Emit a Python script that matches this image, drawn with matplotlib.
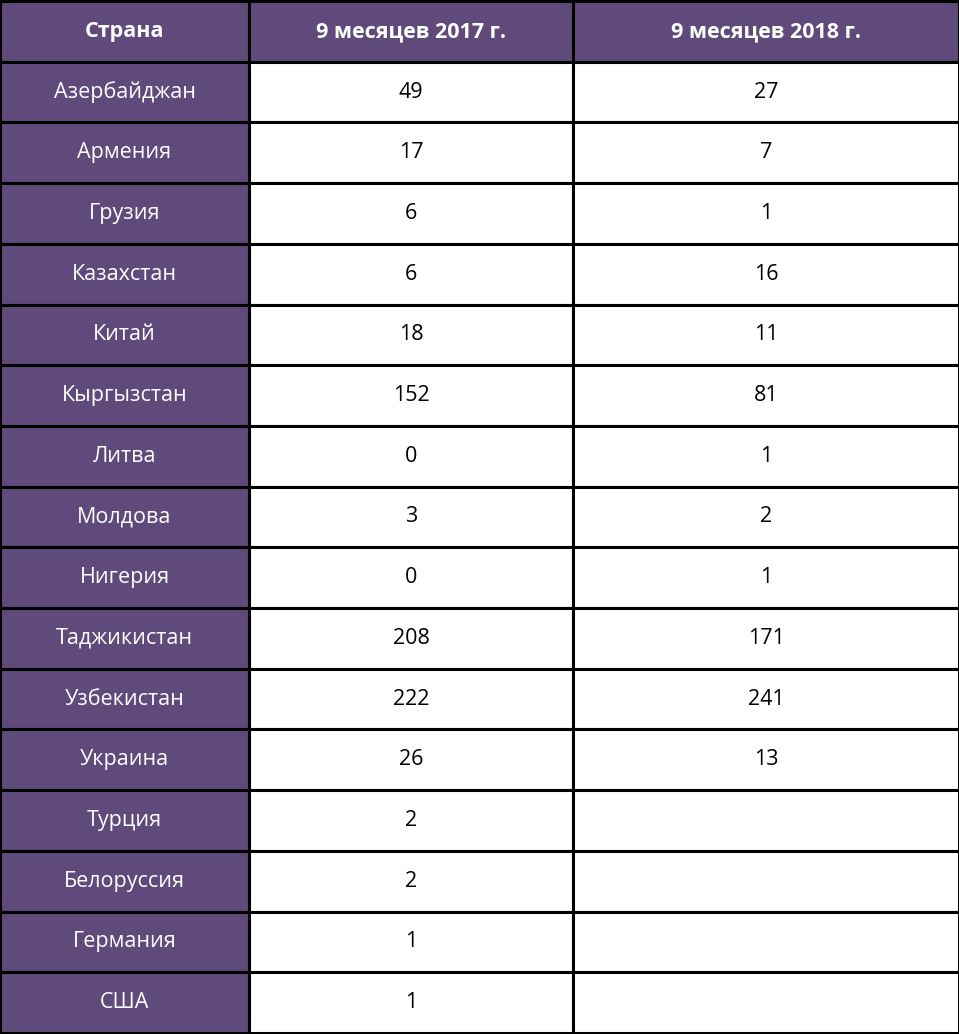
import matplotlib
matplotlib.use("Agg")
import matplotlib.pyplot as plt
from matplotlib.patches import Rectangle

headers = ["Страна", "9 месяцев 2017 г.", "9 месяцев 2018 г."]
countries = ["Азербайджан", "Армения", "Грузия", "Казахстан", "Китай", "Кыргызстан",
             "Литва", "Молдова", "Нигерия", "Таджикистан", "Узбекистан", "Украина",
             "Турция", "Белоруссия", "Германия", "США"]
v2017 = [49, 17, 6, 6, 18, 152, 0, 3, 0, 208, 222, 26, 2, 2, 1, 1]
v2018 = [27, 7, 1, 16, 11, 81, 1, 2, 1, 171, 241, 13, None, None, None, None]

W, H = 959, 1034
fig = plt.figure(figsize=(W/100, H/100), dpi=100)
ax = fig.add_axes([0, 0, 1, 1])
ax.set_xlim(0, W); ax.set_ylim(H, 0); ax.axis("off")

purple = "#5f4a7b"
cols = [0, 249, 573, W]
nrows = len(countries) + 1
rh = (H - 2) / nrows
font = "Open Sans"

for r in range(nrows):
    y0 = 1 + r * rh
    for c in range(3):
        x0, x1 = cols[c], cols[c+1]
        fc = purple if (r == 0 or c == 0) else "white"
        ax.add_patch(Rectangle((x0, y0), x1 - x0, rh, facecolor=fc, edgecolor="black", lw=2.2))
        if r == 0:
            txt, color, wt = headers[c], "white", "bold"
        else:
            i = r - 1
            if c == 0:
                txt, color, wt = countries[i], "white", "normal"
            elif c == 1:
                txt, color, wt = str(v2017[i]), "black", "normal"
            else:
                txt = "" if v2018[i] is None else str(v2018[i])
                color, wt = "black", "normal"
        ax.text((x0 + x1) / 2, y0 + rh / 2, txt, ha="center", va="center",
                fontsize=15.5, color=color, fontweight=wt, family=font)

fig.savefig("out.png", dpi=100, facecolor="white")
